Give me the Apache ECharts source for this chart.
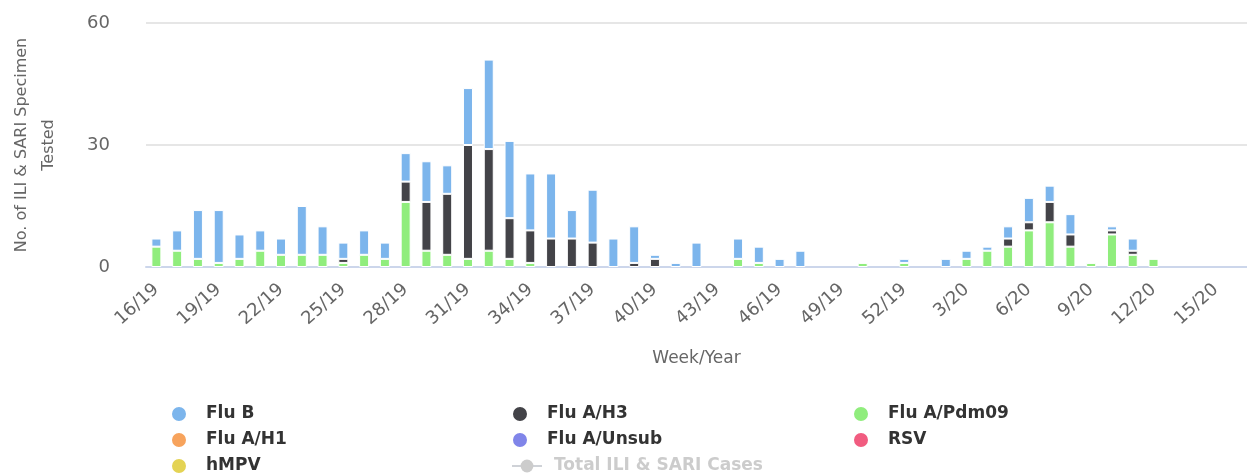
<!DOCTYPE html>
<html>
<head>
<meta charset="utf-8">
<script src="https://cdn.jsdelivr.net/npm/echarts@6/dist/echarts.min.js"></script>
<style>
  html, body { margin: 0; padding: 0; background: #fff; }
  #chart { width: 1247px; height: 475px; }
</style>
</head>
<body>
<div id="chart"></div>
<script>
const weeks = [
  "16/19", "17/19", "18/19", "19/19", "20/19", "21/19", "22/19", "23/19", "24/19", "25/19",
  "26/19", "27/19", "28/19", "29/19", "30/19", "31/19", "32/19", "33/19", "34/19", "35/19",
  "36/19", "37/19", "38/19", "39/19", "40/19", "41/19", "42/19", "43/19", "44/19", "45/19",
  "46/19", "47/19", "48/19", "49/19", "50/19", "51/19", "52/19",
  "1/20", "2/20", "3/20", "4/20", "5/20", "6/20", "7/20", "8/20", "9/20", "10/20",
  "11/20", "12/20", "13/20", "14/20", "15/20", "16/20"
];

const fluPdm09 = [
  5, 4, 2, 1, 2, 4, 3, 3, 3, 1,
  3, 2, 16, 4, 3, 2, 4, 2, 1, 0,
  0, 0, 0, 0, 0, 0, 0, 0, 2, 1,
  0, 0, 0, 0, 1, 0, 1,
  0, 0, 2, 4, 5, 9, 11, 5, 1, 8,
  3, 2, 0, 0, 0, 0
];

const fluH3 = [
  0, 0, 0, 0, 0, 0, 0, 0, 0, 1,
  0, 0, 5, 12, 15, 28, 25, 10, 8, 7,
  7, 6, 0, 1, 2, 0, 0, 0, 0, 0,
  0, 0, 0, 0, 0, 0, 0,
  0, 0, 0, 0, 2, 2, 5, 3, 0, 1,
  1, 0, 0, 0, 0, 0
];

const fluB = [
  2, 5, 12, 13, 6, 5, 4, 12, 7, 4,
  6, 4, 7, 10, 7, 14, 22, 19, 14, 16,
  7, 13, 7, 9, 1, 1, 6, 0, 5, 4,
  2, 4, 0, 0, 0, 0, 1,
  0, 2, 2, 1, 3, 6, 4, 5, 0, 1,
  3, 0, 0, 0, 0, 0
];

// no specimens reported for these in the period
const fluH1 = [];
const fluUnsub = [];
const rsv = [];
const hmpv = [];
const totalCases = [];

const font = "DejaVu Sans";
const nz = (arr) => arr.map((v) => (v ? v : null));

function barSeries(name, data, color) {
  return {
    name: name,
    type: "bar",
    stack: "tests",
    data: nz(data),
    barWidth: 10,
    itemStyle: { color: color, borderColor: "#ffffff", borderWidth: 1 },
  };
}

const chart = echarts.init(document.getElementById("chart"), null, { renderer: "canvas" });

const option = {
  animation: false,
  textStyle: { fontFamily: font },
  grid: { left: 142, right: 0, top: 23, bottom: 208, containLabel: false },
  legend: {
    left: 170,
    top: 404,
    width: 1060,
    padding: 0,
    itemGap: 6,
    itemWidth: 30,
    itemHeight: 16,
    inactiveColor: "#cccccc",
    textStyle: {
      fontFamily: font,
      fontSize: 17,
      fontWeight: "bold",
      color: "#333333",
      width: 299,
      lineHeight: 20,
      padding: [0, 0, 0, 7],
    },
    data: [
      { name: "Flu B", icon: "circle" },
      { name: "Flu A/H3", icon: "circle" },
      { name: "Flu A/Pdm09", icon: "circle" },
      { name: "Flu A/H1", icon: "circle" },
      { name: "Flu A/Unsub", icon: "circle" },
      { name: "RSV", icon: "circle" },
      { name: "hMPV", icon: "circle" },
      { name: "Total ILI & SARI Cases" },
    ],
    selected: { "Total ILI & SARI Cases": false },
  },
  xAxis: {
    type: "category",
    data: weeks,
    boundaryGap: true,
    name: "Week/Year",
    nameLocation: "middle",
    nameGap: 83,
    nameTextStyle: { fontFamily: font, fontSize: 17, color: "#666666" },
    axisLine: { lineStyle: { color: "#ccd6eb", width: 2 } },
    axisTick: {
      alignWithLabel: true,
      interval: 2,
      length: 15,
      lineStyle: { color: "#ccd6eb", width: 2 },
    },
    axisLabel: {
      interval: 2,
      rotate: 42,
      margin: 20,
      fontFamily: font,
      fontSize: 18,
      color: "#666666",
    },
    splitLine: { show: false },
  },
  yAxis: {
    type: "value",
    min: 0,
    max: 60,
    interval: 30,
    name: "No. of ILI & SARI Specimen\nTested",
    nameLocation: "middle",
    nameRotate: 90,
    nameGap: 84,
    nameTextStyle: { fontFamily: font, fontSize: 16, color: "#666666", lineHeight: 27 },
    axisLine: { show: false },
    axisTick: { show: false },
    axisLabel: { margin: 36, fontFamily: font, fontSize: 18, color: "#666666" },
    splitLine: { lineStyle: { color: "#e6e6e6", width: 2 } },
  },
  series: [
    barSeries("Flu A/Pdm09", fluPdm09, "#90ed7d"),
    barSeries("Flu A/H3", fluH3, "#434348"),
    barSeries("Flu B", fluB, "#7cb5ec"),
    barSeries("Flu A/H1", fluH1, "#f7a35c"),
    barSeries("Flu A/Unsub", fluUnsub, "#8085e9"),
    barSeries("RSV", rsv, "#f15c80"),
    barSeries("hMPV", hmpv, "#e4d354"),
    {
      name: "Total ILI & SARI Cases",
      type: "line",
      data: totalCases,
      symbol: "circle",
      symbolSize: 8,
      itemStyle: { color: "#f45b5b" },
      lineStyle: { width: 2 },
    },
  ],
};

chart.setOption(option);
</script>
</body>
</html>
